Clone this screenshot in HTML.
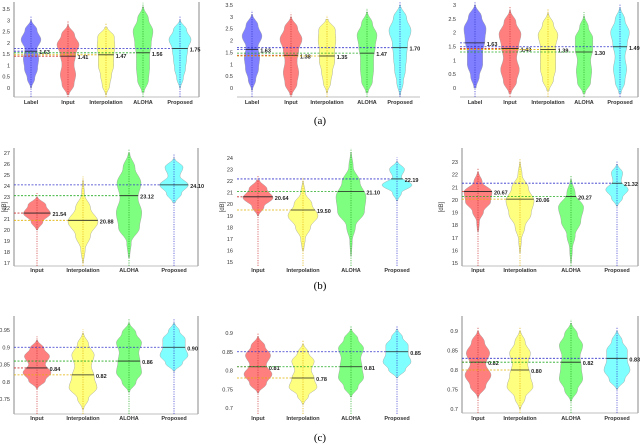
<!DOCTYPE html>
<html><head><meta charset="utf-8">
<style>
html,body{margin:0;padding:0;background:#fff;}
svg{display:block;font-family:"Liberation Sans",sans-serif;}
</style></head>
<body>
<svg id="fig" width="640" height="445" viewBox="0 0 640 445" xmlns="http://www.w3.org/2000/svg"></svg>
<script>
// ---------- DATA ----------
const catsA = ["Label","Input","Interpolation","ALOHA","Proposed"];
const catsBC = ["Input","Interpolation","ALOHA","Proposed"];
const colorsA = ["#7878ff","#ff7878","#ffff78","#78ff78","#78ffff"];
const colorsBC = ["#ff7878","#ffff78","#78ff78","#78ffff"];
const lineA = ["#3333cc","#cc3333","#e0b000","#22aa22","#3333cc"];
const lineBC = ["#cc3333","#e0b000","#22aa22","#3333cc"];

const a1Med = [1.63,1.41,1.47,1.56,1.75];
const a1Min = [0,-0.3,-0.3,-0.2,0];
const a1Max = [3.0,2.8,2.7,3.6,3.0];
const a2Med = [1.63,1.38,1.35,1.47,1.70];
const a2Min = [-0.1,-0.3,-0.2,-0.2,-0.3];
const a2Max = [3.1,3.0,2.9,3.2,3.5];
const a3Med = [1.63,1.43,1.39,1.30,1.49];
const a3Min = [0,-0.2,-0.1,-0.2,-0.2];
const a3Max = [3.0,2.8,2.7,2.6,2.9];
const densA = [
  [0.05,0.35,0.6,0.7,0.55,0.9,0.55,0.05],
  [0.1,0.55,0.7,0.55,0.7,1.0,0.6,0.05],
  [0.05,0.35,0.5,0.7,0.7,0.8,0.75,0.1],
  [0.1,0.5,0.6,0.6,0.75,0.9,0.5,0.05],
  [0.05,0.3,0.5,0.6,0.7,1.0,0.6,0.05]
];
const densA3 = [
  [0.1,0.4,0.7,0.7,0.9,1.0,0.6,0.05],
  [0.1,0.6,0.85,0.6,0.8,1.0,0.55,0.05],
  [0.1,0.5,0.7,0.7,0.7,0.9,0.5,0.05],
  [0.1,0.6,0.7,0.6,0.8,0.8,0.4,0.05],
  [0.1,0.45,0.6,0.45,0.65,0.85,0.45,0.05]
];

const b1Med = [21.54,20.88,23.12,24.10];
const b1Min = [20.0,17.0,17.5,22.5];
const b1Max = [23.0,24.5,27.0,26.5];
const b2Med = [20.64,19.50,21.10,22.19];
const b2Min = [19.0,16.0,15.5,20.3];
const b2Max = [22.1,22.0,24.5,23.7];
const b3Med = [20.67,20.06,20.27,21.32];
const b3Min = [17.5,15.8,15.0,19.5];
const b3Max = [22.2,23.0,21.6,22.8];
const densB1 = [[0.05,0.4,0.9,0.6,0.05],[0.03,0.15,0.5,1.0,0.5,0.1,0.03],[0.05,0.15,0.7,0.85,0.6,0.8,0.4,0.05],[0.1,0.5,0.95,0.4,0.6,0.05]];
const densB2 = [[0.05,0.4,1.0,0.6,0.1],[0.05,0.15,0.5,1.0,0.6,0.15,0.03],[0.03,0.08,0.3,0.9,1.0,0.6,0.15,0.03],[0.05,0.3,1.0,0.3,0.5,0.05]];
const densB3 = [[0.05,0.1,0.4,0.9,1.0,0.3,0.05],[0.03,0.1,0.35,0.8,1.0,0.6,0.15,0.03],[0.03,0.1,0.3,0.7,0.9,0.3,0.05],[0.05,0.4,0.8,0.3,0.4,0.05]];

const c1Med = [0.84,0.82,0.86,0.90];
const c1Min = [0.78,0.72,0.77,0.83];
const c1Max = [0.92,0.94,0.97,0.97];
const c2Med = [0.81,0.78,0.81,0.85];
const c2Min = [0.74,0.71,0.73,0.78];
const c2Max = [0.89,0.87,0.91,0.91];
const c3Med = [0.82,0.80,0.82,0.83];
const c3Min = [0.73,0.70,0.72,0.75];
const c3Max = [0.90,0.90,0.92,0.90];
const densC = [[0.05,0.6,1.0,0.6,0.9,0.5,0.05],[0.05,0.4,1.0,0.8,0.6,0.8,0.4,0.05],[0.05,0.5,0.9,0.8,0.7,0.9,0.5,0.05],[0.05,0.6,1.0,0.8,0.8,0.4,0.05]];

const ticksA12 = [0,0.5,1,1.5,2,2.5,3,3.5];
const ticksA3 = [0,0.5,1,1.5,2,2.5,3];
const ticksB1 = [17,18,19,20,21,22,23,24,25,26,27];
const ticksB2 = [15,16,17,18,19,20,21,22,23,24];
const ticksB3 = [15,16,17,18,19,20,21,22,23];
const ticksC1 = [0.75,0.8,0.85,0.9,0.95];
const ticksC2 = [0.7,0.75,0.8,0.85,0.9];
const ticksC3 = [0.7,0.75,0.8,0.85,0.9];

// ---------- LAYOUT ----------
const panels = [
 {id:"a1",cats:catsA,col:colorsA,lc:lineA,med:a1Med,mn:a1Min,mx:a1Max,dens:densA,ticks:ticksA12,v0:0,p0:88,v1:3.5,p1:9,xs:[31,68,106,143,180],L:14,R:199,B:97,T:2,lab:102,w:11,db:null},
 {id:"a2",cats:catsA,col:colorsA,lc:lineA,med:a2Med,mn:a2Min,mx:a2Max,dens:densA,ticks:ticksA12,v0:0,p0:88,v1:3.5,p1:5,xs:[252,291,327,367,400],L:237,R:420,B:97,T:2,lab:102,w:11,db:null,noL:true,noR:true},
 {id:"a3",cats:catsA,col:colorsA,lc:lineA,med:a3Med,mn:a3Min,mx:a3Max,dens:densA3,ticks:ticksA3,v0:0,p0:88,v1:3,p1:5,xs:[475,510,548,584,620],L:460,R:638,B:97,T:2,lab:102,w:11,db:null,noL:true},
 {id:"b1",cats:catsBC,col:colorsBC,lc:lineBC,med:b1Med,mn:b1Min,mx:b1Max,dens:densB1,ticks:ticksB1,v0:17,p0:263,v1:27,p1:153,xs:[37,83,129,174],L:14,R:198,B:266,T:148,lab:270,w:15,db:6},
 {id:"b2",cats:catsBC,col:colorsBC,lc:lineBC,med:b2Med,mn:b2Min,mx:b2Max,dens:densB2,ticks:ticksB2,v0:15,p0:262,v1:24,p1:158,xs:[258,303,351,397],L:237,R:420,B:266,T:148,lab:270,w:15,db:224,noL:true,noR:true,noB:true},
 {id:"b3",cats:catsBC,col:colorsBC,lc:lineBC,med:b3Med,mn:b3Min,mx:b3Max,dens:densB3,ticks:ticksB3,v0:15,p0:263,v1:23,p1:162,xs:[478,520,571,617],L:462,R:638,B:266,T:148,lab:270,w:14,db:443},
 {id:"c1",cats:catsBC,col:colorsBC,lc:lineBC,med:c1Med,mn:c1Min,mx:c1Max,dens:densC,ticks:ticksC1,v0:0.75,p0:399,v1:0.95,p1:330,xs:[37,83,129,174],L:14,R:198,B:414,T:316,lab:418,w:14,db:null},
 {id:"c2",cats:catsBC,col:colorsBC,lc:lineBC,med:c2Med,mn:c2Min,mx:c2Max,dens:densC,ticks:ticksC2,v0:0.7,p0:408,v1:0.9,p1:333,xs:[258,303,351,397],L:237,R:420,B:414,T:316,lab:418,w:14,db:null,noL:true,noR:true,noB:true},
 {id:"c3",cats:catsBC,col:colorsBC,lc:lineBC,med:c3Med,mn:c3Min,mx:c3Max,dens:densC,ticks:ticksC3,v0:0.7,p0:409,v1:0.9,p1:331,xs:[478,520,571,617],L:462,R:638,B:413,T:316,lab:418,w:13,db:null}
];

const NS="http://www.w3.org/2000/svg";
const svg=document.getElementById("fig");
function mk(tag,attrs,parent){const e=document.createElementNS(NS,tag);for(const k in attrs)e.setAttribute(k,attrs[k]);(parent||svg).appendChild(e);return e;}

function interp(d,t){
  const n=d.length-1;const x=t*n;let i=Math.floor(x);if(i>=n)i=n-1;if(i<0)i=0;const f=x-i;
  const g=(1-Math.cos(Math.PI*f))/2;return d[i]*(1-g)+d[i+1]*g;
}

panels.forEach(p=>{
  const g=mk("g",{});
  
  
  const y=v=>p.p0+(v-p.v0)*(p.p1-p.p0)/(p.v1-p.v0);
  if(!p.noL){const l=mk("line",{x1:p.L,y1:p.T,x2:p.L,y2:p.B,stroke:"#888","stroke-width":1},g);}
  if(!p.noR){const l=mk("line",{x1:p.R,y1:p.T,x2:p.R,y2:p.B,stroke:"#888","stroke-width":1},g);}
  if(!p.noB){const l=mk("line",{x1:p.L,y1:p.B,x2:p.R,y2:p.B,stroke:"#aaa","stroke-width":0.8},g);}
  p.ticks.forEach(v=>{
    const t=mk("text",{x:p.L-4,y:y(v)+2,"font-size":5.5,"text-anchor":"end",fill:"#333"},g);
    t.textContent=String(v);
    
    
  });
  if(p.db){
    const t=mk("text",{x:p.db,y:(p.T+p.B)/2,"font-size":6,"text-anchor":"middle",fill:"#333",transform:`rotate(-90 ${p.db} ${(p.T+p.B)/2})`},g);
    t.textContent="[dB]";
    
    
  }
  p.cats.forEach((c,i)=>{
    const cx=p.xs[i],d=p.dens[i],mn=p.mn[i],mx=p.mx[i];
    const N=50,R=[],Lp=[];
    for(let k=0;k<=N;k++){const t=k/N;const v=mn+(mx-mn)*t;const hw=interp(d,t)*p.w;R.push([cx+hw,y(v)]);Lp.push([cx-hw,y(v)]);}
    const pts=R.concat(Lp.reverse()).map(q=>q[0].toFixed(1)+","+q[1].toFixed(1)).join(" ");
    const vg=mk("polygon",{points:pts,fill:p.col[i],"fill-opacity":0.95,stroke:"#999","stroke-width":0.4},g);
    
    
    const vl=mk("line",{x1:cx,y1:p.B,x2:cx,y2:y(mx)-4,stroke:p.lc[i],"stroke-width":0.7,"stroke-dasharray":"1.2,1.2"},g);
    
    
    const mv=p.med[i];const tm=(mv-mn)/(mx-mn);const hw=interp(d,Math.max(0,Math.min(1,tm)))*p.w;
    const dl=mk("line",{x1:p.L,y1:y(mv),x2:cx-hw,y2:y(mv),stroke:p.lc[i],"stroke-width":0.8,"stroke-dasharray":"2,1.5"},g);
    
    
    const ml=mk("line",{x1:cx-hw,y1:y(mv),x2:cx+hw,y2:y(mv),stroke:"#222","stroke-width":0.8},g);
    
    
    const mt=mk("text",{x:cx+hw+2,y:y(mv)+3,"font-size":5.5,"font-weight":"bold",fill:"#222"},g);
    mt.textContent=mv.toFixed(2);
    
    
    const ct=mk("text",{x:cx,y:p.lab+2,"font-size":5.5,"font-weight":"bold","text-anchor":"middle",fill:"#333"},g);
    ct.textContent=c;
    
    
  });
});
[["(a)",124],["(b)",289],["(c)",441]].forEach(c=>{
  const t=mk("text",{x:320,y:c[1],"font-size":11,"text-anchor":"middle",fill:"#000","font-family":"Liberation Serif, serif"});
  t.textContent=c[0];
  
  
});
</script>
</body></html>
